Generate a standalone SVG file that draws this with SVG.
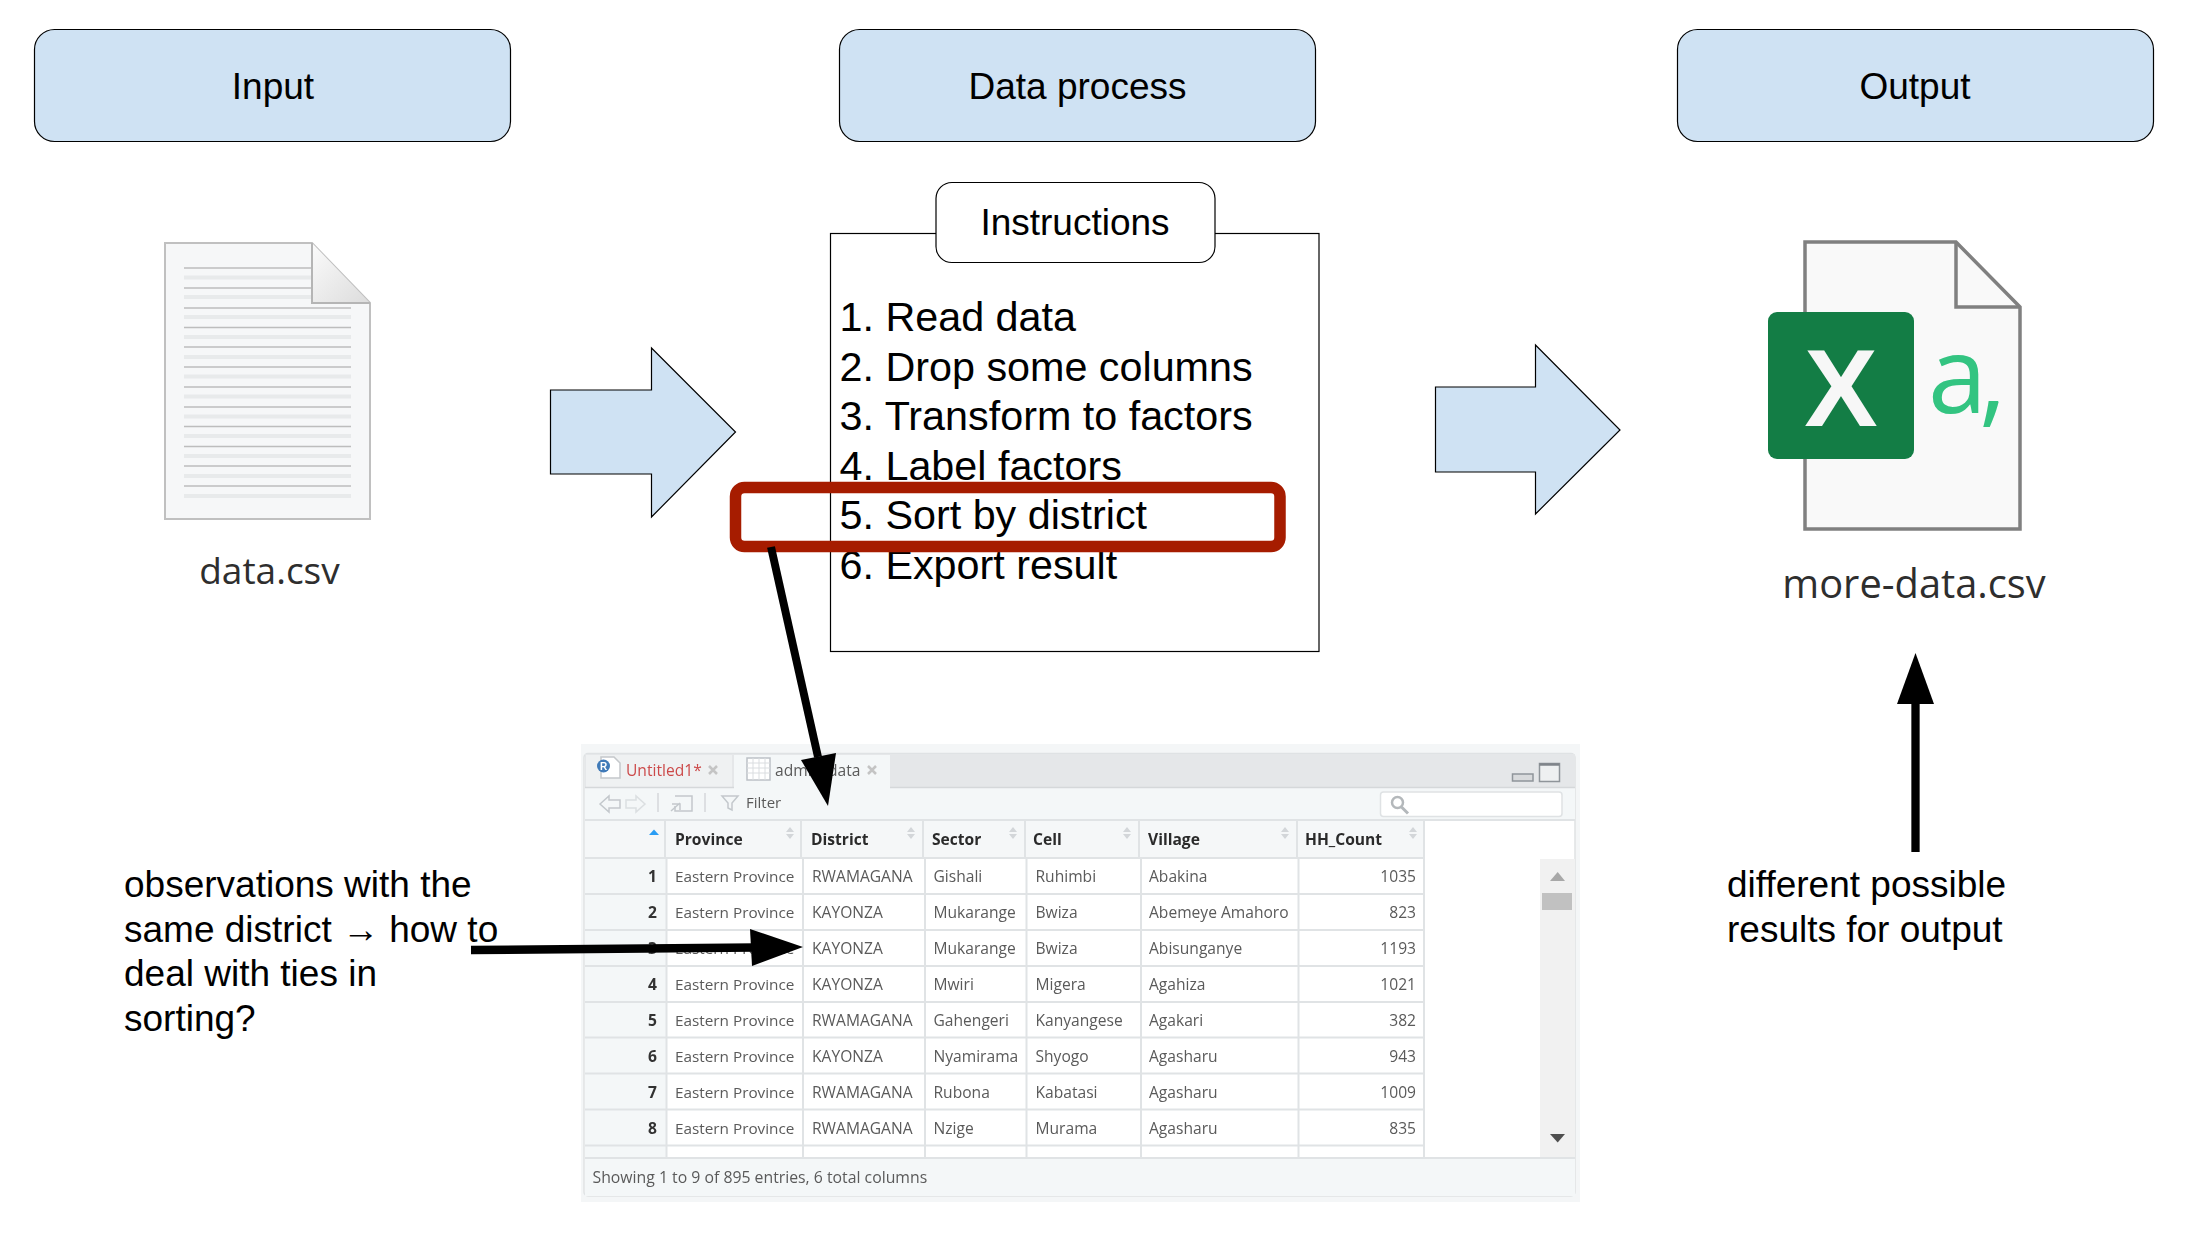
<svg xmlns="http://www.w3.org/2000/svg" width="2205" height="1255" viewBox="0 0 2205 1255">
<style>
text{font-family:"Liberation Sans",Arial,sans-serif;fill:#000}
.hd{fill:#cfe2f3;stroke:#000;stroke-width:1.2}
.t37{font-size:37px}
.c{text-anchor:middle}
.li{font-size:41.3px}
.ui{font-family:"Open Sans","Noto Sans",sans-serif;font-size:15.6px;fill:#5a5a5a}
.pv{font-size:15.3px}
.th{font-family:"Open Sans","Noto Sans",sans-serif;font-size:15.6px;font-weight:700;fill:#2b2b2b}
.rn{font-family:"Open Sans","Noto Sans",sans-serif;font-size:15.6px;font-weight:700;fill:#333;text-anchor:end}
.num{text-anchor:end}
.grid{stroke:#e0e3e5;stroke-width:2;fill:none}
.sort{fill:#d3d6d9}
.fname{font-family:"Open Sans","Noto Sans",sans-serif;fill:#2e2e2e}
.dark{stroke:#bdbdbd;stroke-width:1.6}
.light{stroke:#e8eaeb;stroke-width:4}
.ico{fill:none;stroke:#c3c8cc;stroke-width:1.5}
.conn{stroke:#000;fill:none}
</style>
<defs><filter id="soft" x="0" y="0" width="1" height="1"><feGaussianBlur stdDeviation="0.45"/></filter>
<linearGradient id="fold" x1="0" y1="0" x2="1" y2="1"><stop offset="0" stop-color="#fbfbfb"/><stop offset="1" stop-color="#dcdcdc"/></linearGradient></defs>

<g id="input-header"><rect class="hd" x="34.5" y="29.5" width="476" height="112" rx="20"/><text class="t37 c" x="273" y="99">Input</text></g>
<g id="process-header"><rect class="hd" x="839.5" y="29.5" width="476" height="112" rx="20"/><text class="t37 c" x="1077.500" y="99">Data process</text></g>
<g id="output-header"><rect class="hd" x="1677.5" y="29.5" width="476" height="112" rx="20"/><text class="t37 c" x="1915" y="99">Output</text></g>

<g id="data-csv">
<path d="M165 243H312L370 303V519H165Z" fill="#f6f7f8" stroke="#c0c0c0" stroke-width="2"/>
<g>
<path class="dark" d="M184 268H312M184 288H312M184 308H351M184 327.500H351M184 347H351M184 367H351M184 387H351M184 407H351M184 426.500H351M184 446.500H351M184 466H351M184 486H351"/>
<path class="light" d="M184 277.500H312M184 297H312M184 317H351M184 337H351M184 357H351M184 376.500H351M184 396.500H351M184 416.500H351M184 436H351M184 456H351M184 476H351M184 496H351"/>
</g>
<path d="M312 243L370 303H312Z" fill="url(#fold)"/>
<path d="M312 243V303H370" fill="none" stroke="#b5b5b5" stroke-width="2"/>
<text class="fname c" x="269.500" y="584" font-size="37">data.csv</text>
</g>

<g id="arrow-in"><path class="hd" d="M550.500 390H651.500V348L735.500 432L651.500 517V474H550.500Z"/></g>
<g id="arrow-out"><path class="hd" d="M1435.500 387H1535.500V345L1620 430L1535.500 514V472H1435.500Z"/></g>

<g id="instructions">
<rect x="830.500" y="233.500" width="488.500" height="418" fill="#fff" stroke="#000" stroke-width="1.200"/>
<rect x="936" y="182.500" width="279" height="80" rx="16" fill="#fff" stroke="#000" stroke-width="1.200"/>
<text class="t37 c" x="1075" y="235">Instructions</text>
<text class="li" x="839.500" y="331">1. Read data</text>
<text class="li" x="839.500" y="380.500">2. Drop some columns</text>
<text class="li" x="839.500" y="430">3. Transform to factors</text>
<text class="li" x="839.500" y="479.500">4. Label factors</text>
<text class="li" x="839.500" y="529">5. Sort by district</text>
<text class="li" x="839.500" y="578.500">6. Export result</text>
</g>
<g id="highlight"><rect x="735.500" y="487.500" width="544.500" height="59" rx="9" fill="none" stroke="#a61c00" stroke-width="11.500"/></g>

<g id="excel-file">
<path d="M1805 242H1956L2020 307V529H1805Z" fill="#f9f9f9" stroke="#808080" stroke-width="3.500"/>
<path d="M1956 242V307H2020" fill="none" stroke="#808080" stroke-width="3.500"/>
<rect x="1768" y="312" width="146" height="147" rx="9" fill="#137d45"/>
<text x="1841" y="426" text-anchor="middle" font-size="110" font-weight="700" style="fill:#f7f7f7">X</text>
<text x="1928" y="413" font-size="106" letter-spacing="-8" style="font-family:'Open Sans',sans-serif;fill:#33c481">a,</text>
<text class="fname c" x="1914" y="598" font-size="39.800">more-data.csv</text>
</g>

<g id="data-viewer" filter="url(#soft)">
<rect x="581" y="744" width="999" height="458" fill="#f4f6f7"/>
<rect x="584" y="753.500" width="991" height="442.500" rx="4" fill="#fff" stroke="#dfe2e4" stroke-width="1.500"/>
<rect x="585" y="754" width="990" height="34" fill="#e5e7e9"/>
<rect x="586" y="755" width="146" height="33" fill="#eff1f2"/>
<rect x="734" y="755" width="156" height="33" fill="#f4f7f8"/>
<rect x="585" y="788" width="990" height="32" fill="#f4f7f8"/>
<path d="M585 787.500H734M890 787.500H1575" stroke="#d5d8da" stroke-width="1.500"/>
<path d="M601 757H614L620 763V778H601Z" fill="#fff" stroke="#c5c8cb" stroke-width="1.500"/>
<circle cx="603.500" cy="766" r="6.500" fill="#3f7ab8"/>
<text x="603.500" y="770" font-size="10" font-weight="700" text-anchor="middle" style="fill:#fff">R</text>
<text class="ui" x="626" y="775.600" style="fill:#cc4a4a">Untitled1*</text>
<path d="M709 766L717 774M717 766L709 774" stroke="#c4c4c4" stroke-width="2.500"/>
<rect x="747" y="758" width="23" height="22" fill="#fff" stroke="#bcc1c6" stroke-width="1.500"/>
<path d="M747 763H770M747 768H770M747 773H770M753 758V780M759 758V780M765 758V780" stroke="#dadde0" stroke-width="1"/>
<text class="ui" x="775" y="775.600">admin_data</text>
<path d="M868 766L876 774M876 766L868 774" stroke="#c4c4c4" stroke-width="2.500"/>
<path d="M1512.500 774H1533V781H1512.500Z" fill="#d8dadc" stroke="#8f959a" stroke-width="1.500"/>
<rect x="1539.500" y="763.500" width="20" height="18" fill="#eef0f1" stroke="#8f959a" stroke-width="1.500"/>
<path d="M1539.500 764.500H1559.500" stroke="#7f848a" stroke-width="2.500"/>

<path class="ico" d="M600 804L609 796V800H620V808H609V812Z"/>
<path class="ico" stroke-opacity=".5" d="M645 804L636 796V800H626V808H636V812Z"/>
<path d="M658 793V812M705 793V812" stroke="#d5d8da" stroke-width="1.500"/>
<path class="ico" d="M675 796H692V811H675V806"/>
<path class="ico" d="M671 811L680 803M672 804H680V810"/>
<path class="ico" d="M722 796H738L732 803V810L728 808V803Z"/>
<text class="ui" x="746" y="807.600" style="font-size:15px">Filter</text>
<rect x="1380.500" y="792" width="181.500" height="24.500" rx="3" fill="#fff" stroke="#dfe2e4" stroke-width="1.500"/>
<circle cx="1397.500" cy="802.500" r="5.500" fill="none" stroke="#b4b8bb" stroke-width="2.500"/>
<path d="M1401.500 807L1408 813.500" stroke="#b4b8bb" stroke-width="3"/>

<rect x="585" y="820" width="839" height="38" fill="#f5f7f8"/>
<rect x="585" y="858" width="81" height="300" fill="#f4f7f8"/>
<path class="grid" d="M585 820H1575"/>
<path class="grid" d="M585 858H1424M585 894H1424M585 930H1424M585 966H1424M585 1002H1424M585 1037.500H1424M585 1073.500H1424M585 1109.500H1424M585 1145.500H1424M585 1158H1575"/>
<path class="grid" d="M665 820V858M801 820V858M923 820V858M1025 820V858M1139 820V858M1297 820V858"/>
<path class="grid" d="M666.500 858V1158M803 858V1158M925 858V1158M1026.500 858V1158M1141 858V1158M1298.500 858V1158M1424 820V1158"/>

<path d="M649 835L654 829.500L659 835Z" fill="#2a9df4"/>
<path class="sort" d="M790 827L794 832H786ZM790 839L794 834H786Z"/>
<path class="sort" d="M911 827L915 832H907ZM911 839L915 834H907Z"/>
<path class="sort" d="M1013 827L1017 832H1009ZM1013 839L1017 834H1009Z"/>
<path class="sort" d="M1127 827L1131 832H1123ZM1127 839L1131 834H1123Z"/>
<path class="sort" d="M1285 827L1289 832H1281ZM1285 839L1289 834H1281Z"/>
<path class="sort" d="M1413 827L1417 832H1409ZM1413 839L1417 834H1409Z"/>

<text class="th" x="675" y="844.600">Province</text>
<text class="th" x="811" y="844.600">District</text>
<text class="th" x="932" y="844.600">Sector</text>
<text class="th" x="1033" y="844.600">Cell</text>
<text class="th" x="1148" y="844.600">Village</text>
<text class="th" x="1305" y="844.600">HH_Count</text>

<text class="rn" x="657" y="881.600">1</text><text class="ui pv" x="675" y="881.600">Eastern Province</text><text class="ui" x="812" y="881.600">RWAMAGANA</text><text class="ui" x="933.500" y="881.600">Gishali</text><text class="ui" x="1035.500" y="881.600">Ruhimbi</text><text class="ui" x="1149" y="881.600">Abakina</text><text class="ui num" x="1416" y="881.600">1035</text>
<text class="rn" x="657" y="917.600">2</text><text class="ui pv" x="675" y="917.600">Eastern Province</text><text class="ui" x="812" y="917.600">KAYONZA</text><text class="ui" x="933.500" y="917.600">Mukarange</text><text class="ui" x="1035.500" y="917.600">Bwiza</text><text class="ui" x="1149" y="917.600">Abemeye Amahoro</text><text class="ui num" x="1416" y="917.600">823</text>
<text class="rn" x="657" y="953.600">3</text><text class="ui pv" x="675" y="953.600">Eastern Province</text><text class="ui" x="812" y="953.600">KAYONZA</text><text class="ui" x="933.500" y="953.600">Mukarange</text><text class="ui" x="1035.500" y="953.600">Bwiza</text><text class="ui" x="1149" y="953.600">Abisunganye</text><text class="ui num" x="1416" y="953.600">1193</text>
<text class="rn" x="657" y="989.600">4</text><text class="ui pv" x="675" y="989.600">Eastern Province</text><text class="ui" x="812" y="989.600">KAYONZA</text><text class="ui" x="933.500" y="989.600">Mwiri</text><text class="ui" x="1035.500" y="989.600">Migera</text><text class="ui" x="1149" y="989.600">Agahiza</text><text class="ui num" x="1416" y="989.600">1021</text>
<text class="rn" x="657" y="1025.600">5</text><text class="ui pv" x="675" y="1025.600">Eastern Province</text><text class="ui" x="812" y="1025.600">RWAMAGANA</text><text class="ui" x="933.500" y="1025.600">Gahengeri</text><text class="ui" x="1035.500" y="1025.600">Kanyangese</text><text class="ui" x="1149" y="1025.600">Agakari</text><text class="ui num" x="1416" y="1025.600">382</text>
<text class="rn" x="657" y="1061.600">6</text><text class="ui pv" x="675" y="1061.600">Eastern Province</text><text class="ui" x="812" y="1061.600">KAYONZA</text><text class="ui" x="933.500" y="1061.600">Nyamirama</text><text class="ui" x="1035.500" y="1061.600">Shyogo</text><text class="ui" x="1149" y="1061.600">Agasharu</text><text class="ui num" x="1416" y="1061.600">943</text>
<text class="rn" x="657" y="1097.600">7</text><text class="ui pv" x="675" y="1097.600">Eastern Province</text><text class="ui" x="812" y="1097.600">RWAMAGANA</text><text class="ui" x="933.500" y="1097.600">Rubona</text><text class="ui" x="1035.500" y="1097.600">Kabatasi</text><text class="ui" x="1149" y="1097.600">Agasharu</text><text class="ui num" x="1416" y="1097.600">1009</text>
<text class="rn" x="657" y="1133.600">8</text><text class="ui pv" x="675" y="1133.600">Eastern Province</text><text class="ui" x="812" y="1133.600">RWAMAGANA</text><text class="ui" x="933.500" y="1133.600">Nzige</text><text class="ui" x="1035.500" y="1133.600">Murama</text><text class="ui" x="1149" y="1133.600">Agasharu</text><text class="ui num" x="1416" y="1133.600">835</text>

<rect x="1540" y="859" width="35" height="298" fill="#f1f1f1"/>
<rect x="1542" y="893" width="30" height="17" fill="#c1c1c1"/>
<path d="M1550 881L1557.700 872L1565 881Z" fill="#a8a8a8"/>
<path d="M1550 1134L1557.700 1142.500L1565 1134Z" fill="#505050"/>
<rect x="585" y="1159" width="990" height="37" fill="#f4f7f8"/>
<text class="ui" x="592.500" y="1182.500" style="font-size:15.800px">Showing 1 to 9 of 895 entries, 6 total columns</text>
</g>

<g id="note-ties">
<text class="t37" x="124" y="897">observations with the</text>
<text class="t37" x="124" y="942">same district → how to</text>
<text class="t37" x="124" y="986">deal with ties in</text>
<text class="t37" x="124" y="1031">sorting?</text>
</g>
<g id="note-output">
<text class="t37" x="1727" y="897">different possible</text>
<text class="t37" x="1727" y="942">results for output</text>
</g>

<g id="connectors">
<path class="conn" stroke-width="8" d="M771 547L818 757"/>
<path d="M828 806L801 760L836 753Z"/>
<path class="conn" stroke-width="8.500" d="M471 950L755 947.500"/>
<path d="M803 947L750 929L752 966Z"/>
<path class="conn" stroke-width="8.300" d="M1915.500 852V700"/>
<path d="M1915.500 653L1897 704H1934Z"/>
</g>
</svg>
